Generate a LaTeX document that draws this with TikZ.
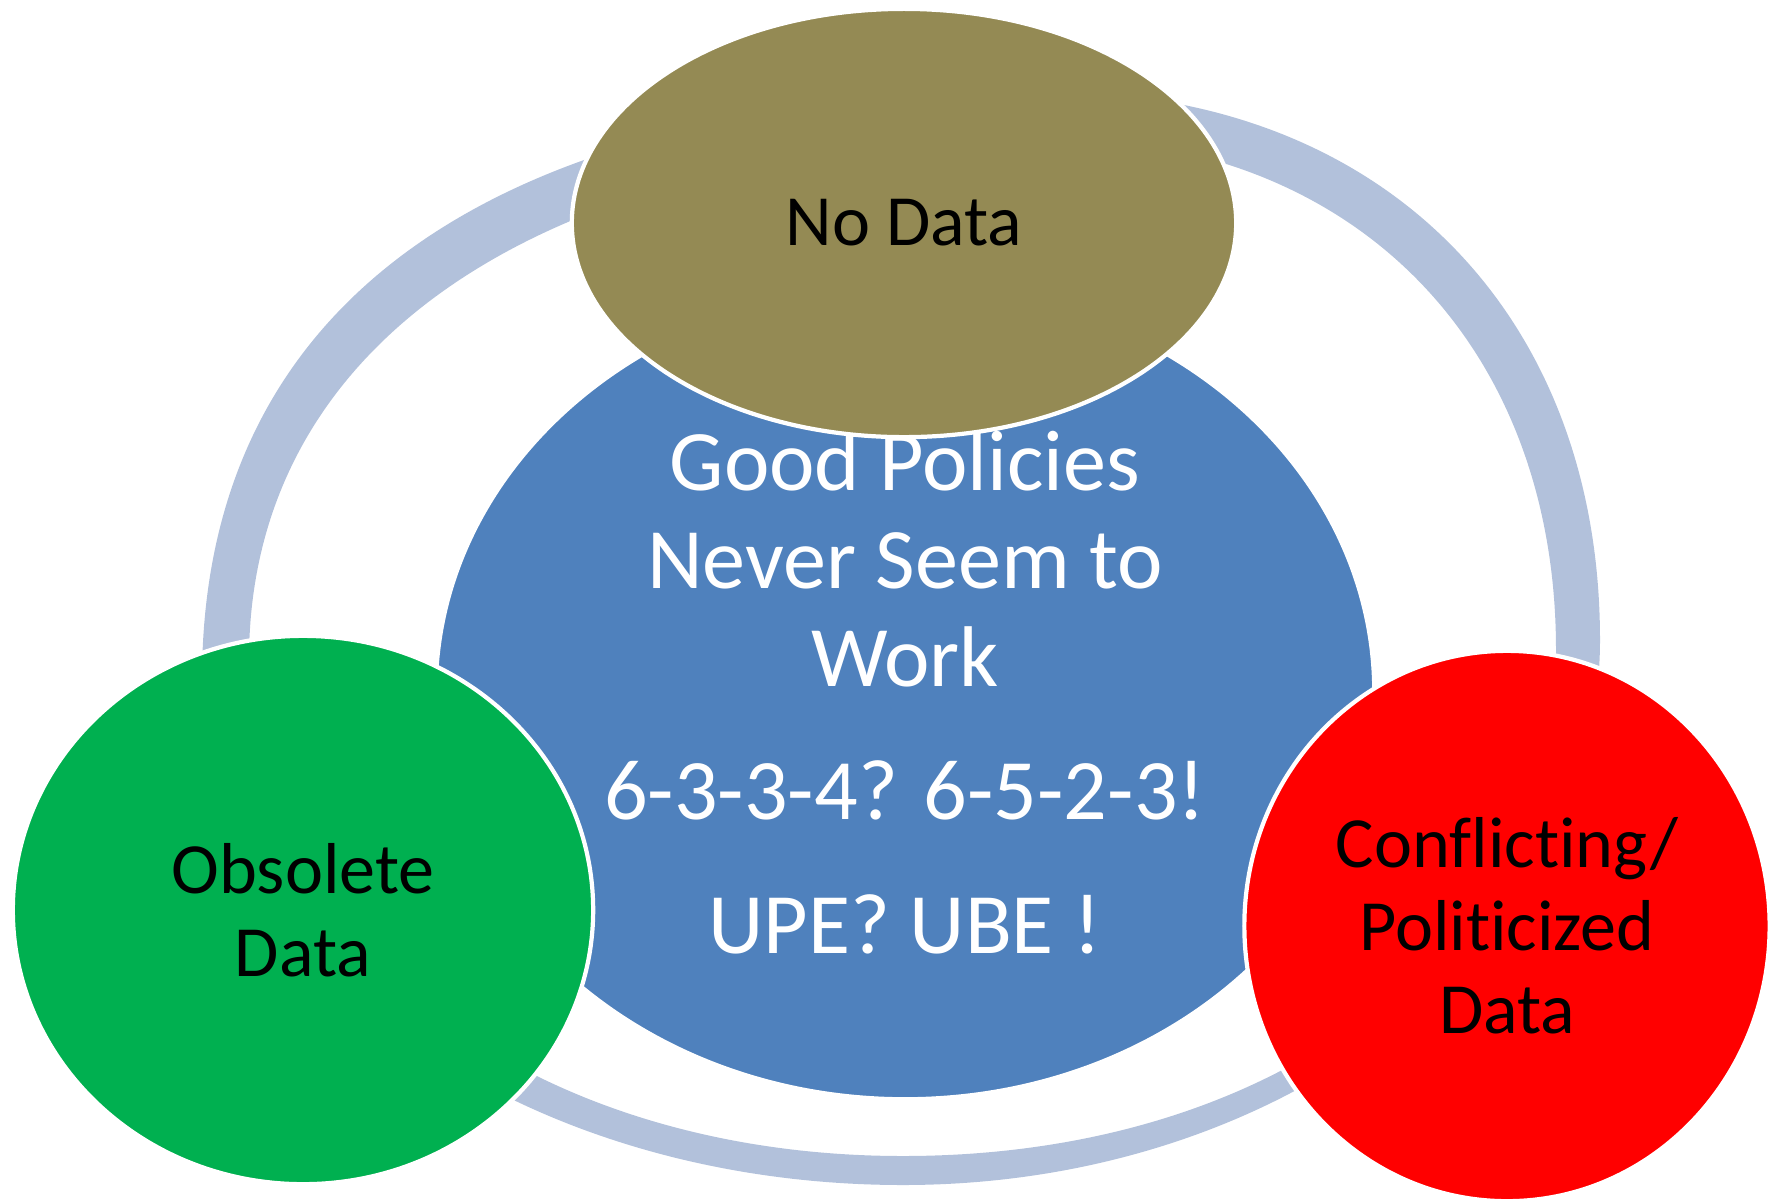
\documentclass[tikz,border=0pt]{standalone}
\usepackage{fontspec}
\setmainfont{Carlito}[Ligatures=NoCommon, Contextuals=NoAlternate]
\usetikzlibrary{shapes.geometric}

\definecolor{ringblue}{HTML}{B2C1DB}
\definecolor{policyblue}{HTML}{4F81BD}
\definecolor{nodataolive}{HTML}{948A54}
\definecolor{obsoletegreen}{HTML}{00B050}
\definecolor{conflictred}{HTML}{FF0000}

\begin{document}
\begin{tikzpicture}[x=0.01cm, y=-0.01cm,
  bubble/.style={ellipse, draw=white, line width=1.2pt, inner sep=0pt, align=center},
  small text/.style={font=\fontsize{20.5}{23.6}\selectfont, text=black},
  big text/.style={font=\fontsize{24.5}{27.9}\selectfont, text=white}]
\useasboundingbox (0,0) rectangle (1781,1202);

% Ring behind the circles (outer edge, then inner edge)
\fill[ringblue, even odd rule]
  (903,1185) .. controls (1288,1185) and (1600,941) .. (1600,640)
  .. controls (1600,311) and (1380,92) .. (1050,92)
  .. controls (499,92) and (202,298) .. (202,680)
  .. controls (202,959) and (516,1185) .. (903,1185) -- cycle
  (903,1156) .. controls (1282,1156) and (1556,943) .. (1556,650)
  .. controls (1556,344) and (1354,138) .. (1050,138)
  .. controls (553,138) and (249,336) .. (249,660)
  .. controls (249,943) and (530,1156) .. (903,1156) -- cycle;

% Centre circle
\node[bubble, fill=policyblue, big text, minimum width=9.38cm, minimum height=8.14cm]
  (policies) at (905,692)
  {Good Policies\\Never Seem to\\Work\\[10pt]6-3-3-4? 6-5-2-3!\\[10pt]UPE? UBE !};

% Outer circles
\node[bubble, fill=nodataolive, small text, minimum width=6.64cm, minimum height=4.28cm]
  (nodata) at (904,223) {No Data};
\node[bubble, fill=obsoletegreen, small text, minimum width=5.80cm, minimum height=5.48cm]
  (obsolete) at (303,910) {Obsolete\\Data};
\node[bubble, fill=conflictred, small text, minimum width=5.25cm, minimum height=5.50cm]
  (conflicting) at (1507,926) {Conflicting/\\Politicized\\Data};

\end{tikzpicture}
\end{document}
